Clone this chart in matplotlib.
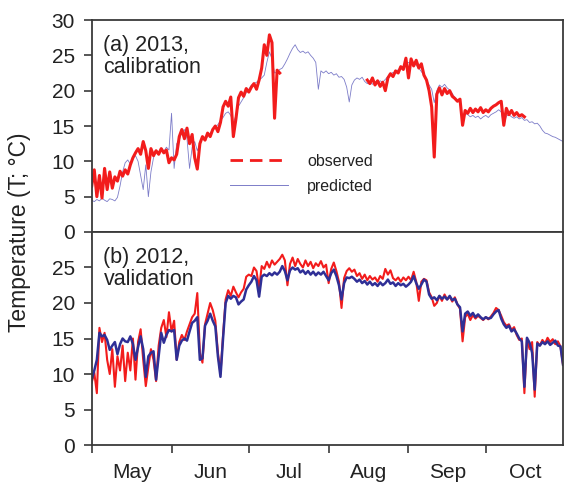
import matplotlib
matplotlib.use("Agg")
import matplotlib.pyplot as plt
from matplotlib.lines import Line2D
import numpy as np

plt.rcParams['font.family'] = ['Liberation Sans', 'DejaVu Sans']

# days counted from 1 May
month_starts = [0, 31, 61, 92, 123, 153, 184]
month_names = ['May', 'Jun', 'Jul', 'Aug', 'Sep', 'Oct']

# 2013 calibration run, daily values (deg C)
pred_2013 = [
    4.5, 4.3, 4.6, 4.4, 4.8, 4.5, 4.3, 4.7, 4.6, 4.4, 4.9, 6.5, 8.5, 9.8, 10.2, 9.6,
    10.5, 10.8, 10.0, 8.0, 6.0, 9.5, 5.0, 8.5, 10.5, 11.5, 11.2, 11.8, 11.4, 12.0, 11.6, 16.8,
    9.0, 12.5, 13.0, 14.2, 14.5, 13.2, 9.0, 12.0, 12.8, 11.5, 12.5, 13.2, 13.0, 13.5, 14.0, 14.5,
    14.8, 15.2, 15.8, 16.2, 16.8, 17.0, 16.5, 15.4, 16.5, 17.8, 18.4, 19.0, 19.7, 20.2, 20.8, 21.0,
    21.2, 21.5, 21.8, 22.2, 24.0, 25.5, 24.5, 22.5, 22.6, 23.0, 23.2, 23.8, 24.5, 25.3, 26.0, 26.5,
    25.8, 25.4, 25.6, 25.3, 25.5, 25.0, 24.6, 24.0, 20.2, 22.8, 22.5, 22.8, 22.4, 22.6, 22.2, 22.4,
    21.9, 22.0, 21.6, 20.5, 18.4, 20.8, 21.5, 21.8, 21.6, 21.9, 21.3, 21.0, 21.2, 20.9, 21.3, 21.0,
    21.4, 21.2, 21.6, 22.0, 22.3, 22.6, 22.4, 23.0, 23.2, 23.5, 23.8, 24.0, 23.7, 23.9, 23.6, 23.2,
    22.7, 22.2, 21.5, 20.8, 20.2, 18.3, 20.0, 20.8, 20.5, 20.9, 20.4, 20.1, 19.6, 19.0, 18.6, 18.3,
    15.1, 16.8, 16.6, 16.3, 16.5, 16.2, 16.4, 16.0, 16.3, 16.5, 16.2, 16.6, 16.8, 17.0, 17.3, 17.0,
    15.1, 16.4, 16.6, 16.3, 16.1, 16.3, 16.0, 16.2, 15.8, 15.9, 15.5, 15.6, 15.3, 15.4, 15.0, 14.4,
    14.0, 13.9, 13.7, 13.5, 13.4, 13.2, 13.0, 12.8,
]
obs_2013_early = [
    6.5, 8.8, 5.0, 8.0, 4.8, 9.0, 6.0, 8.5, 6.2, 7.8, 7.2, 8.6, 7.9, 8.8, 8.2, 9.5,
    10.5, 11.2, 11.8, 11.0, 12.8, 11.5, 9.0, 11.8, 10.8, 11.5, 11.0, 11.8, 11.2, 11.6, 9.8, 10.5,
    10.2, 11.0, 13.5, 14.5, 13.2, 14.7, 12.5, 13.8, 10.5, 8.9, 12.5, 13.5, 13.0, 14.0, 13.5, 14.5,
    15.0, 14.2, 15.5, 17.7, 18.5, 17.8, 19.1, 13.5, 16.0, 19.0, 19.8, 19.2, 20.3, 19.8, 20.5, 21.0,
    20.2, 21.5, 23.2, 26.5, 25.0, 27.9, 26.8, 16.1, 22.9, 22.5,
]
obs_2013_late_start = 107
obs_2013_late = [
    21.5, 21.0, 21.8, 20.8, 21.4, 20.6, 21.2, 20.0, 21.8, 22.4, 22.0, 22.8, 22.5, 23.4, 23.0, 24.6,
    21.8, 24.5, 23.5, 24.3, 23.2, 23.8, 22.2, 21.5, 20.0, 17.7, 10.6, 19.5, 20.4, 19.4, 20.3, 19.6,
    20.0, 19.2, 18.9, 18.5, 18.8, 15.1, 17.2, 16.8, 17.5, 16.9, 17.4, 17.0, 17.6, 16.9, 17.3, 17.0,
    17.5, 17.8, 18.0, 18.3, 18.5, 15.1, 17.5, 16.6, 17.2, 16.5, 16.9, 16.4, 16.6, 16.3,
]

# 2012 validation run, daily values (deg C)
pred_2012 = [
    9.2, 10.5, 12.0, 15.8, 15.3, 15.5, 14.8, 13.4, 14.0, 14.5, 12.8, 14.2, 15.0, 14.6, 14.5, 15.3,
    14.2, 12.0, 13.8, 15.3, 13.5, 9.6, 12.5, 13.0, 13.2, 9.2, 12.5, 15.8, 14.4, 15.5, 16.2, 16.0,
    16.2, 12.0, 14.0, 14.7, 15.0, 14.7, 16.0, 17.2, 17.5, 18.0, 12.0, 12.2, 16.8, 17.5, 18.5, 17.5,
    16.7, 12.5, 9.6, 15.0, 20.0, 21.0, 20.6, 21.0, 20.8, 19.8, 20.2, 20.5, 21.9, 22.5, 23.0, 23.8,
    23.2, 20.9, 23.7, 24.0, 23.8, 24.2, 23.9, 24.3, 24.0, 24.4, 25.2, 24.5, 23.2, 24.6, 25.0, 24.7,
    24.9, 24.3, 24.6, 24.1, 24.5, 24.0, 24.4, 23.9, 24.3, 24.0, 24.4, 23.8, 23.2, 24.2, 24.7, 23.8,
    22.5, 20.5, 22.8, 23.6, 23.5, 23.7, 23.4, 23.0, 23.3, 22.8, 23.1, 22.6, 23.0, 22.5, 22.8, 22.4,
    22.9, 22.5, 22.8, 23.3, 22.7, 22.9, 22.4, 22.8, 22.5, 22.7, 22.3, 22.6, 23.0, 23.8, 22.8, 22.0,
    22.6, 23.3, 23.0, 21.2, 20.6, 20.8, 20.4, 21.0, 20.6, 20.9, 20.5, 21.0, 20.4, 20.6, 19.8, 19.4,
    16.0, 18.5, 18.8, 18.2, 18.6, 18.0, 18.4, 18.0, 17.7, 18.0, 17.8, 17.9, 18.4, 18.8, 19.0, 17.8,
    17.0, 16.5, 16.8, 16.0, 16.3, 15.7, 15.0, 14.6, 8.2, 15.1, 14.4, 13.0, 7.8, 14.3, 14.0, 14.5,
    14.2, 14.6, 14.1, 14.4, 14.7, 14.0, 13.9, 11.3,
]
obs_2012 = [
    8.8, 10.2, 7.3, 16.5, 14.5, 15.8, 12.0, 10.0, 13.5, 8.2, 12.5, 10.5, 14.0, 9.0, 13.0, 10.5,
    15.0, 9.2, 14.5, 16.3, 12.0, 8.3, 11.0, 13.5, 12.0, 9.0, 14.0, 16.5, 17.6, 15.2, 18.7, 16.0,
    17.5, 12.0, 14.5, 15.5, 14.8, 16.0, 17.0, 18.0, 18.5, 21.4, 13.0, 11.6, 17.0, 18.5, 20.0, 19.0,
    17.5, 13.0, 10.0, 15.5, 20.5, 21.8, 21.0, 22.3, 21.5, 20.8, 21.5, 22.0, 23.7, 24.0, 23.8, 25.0,
    24.5, 22.0, 25.2, 24.8, 25.8, 25.0, 26.0, 25.4, 25.8, 26.2, 26.8, 26.0, 22.5, 25.5, 26.4, 25.2,
    26.2, 25.5, 25.0, 26.0, 25.2, 25.8, 24.9, 25.6, 25.2, 25.9, 25.0, 25.4, 22.8, 24.8, 25.7, 24.5,
    23.0, 19.3, 23.5, 24.5, 24.9, 24.4, 24.7, 23.8, 24.2, 23.4, 24.0, 23.2, 23.8, 23.3, 23.6, 23.0,
    23.8, 23.4, 24.8, 24.0, 24.6, 23.5, 23.2, 23.6, 23.0, 23.6, 23.2, 23.7, 23.2, 24.4, 23.0, 20.3,
    23.0, 23.4, 23.2, 21.5, 20.8, 19.6, 20.0, 21.0, 20.3, 21.2, 20.5, 20.9, 20.2, 20.8, 19.8, 19.2,
    14.6, 18.0, 18.5, 17.6, 18.3, 17.8, 18.2, 17.9, 17.6, 18.0, 17.7, 18.1, 18.6, 19.3, 19.0, 18.2,
    17.3, 16.8, 17.0, 16.2, 16.6, 15.5, 14.8, 15.0, 7.3, 15.0, 13.5, 14.5, 6.8, 14.5, 14.0, 14.8,
    14.3, 15.1, 14.5, 14.9, 14.2, 14.6, 13.9, 11.3,
]

red = '#f21c1c'
navy = '#2f2f96'
lavender = '#7c7cc8'
edge = '#3a3a3a'
txt = '#222222'

fig = plt.figure(figsize=(5.65, 4.88), dpi=100)
ax1 = fig.add_axes([0.1623, 0.5246, 0.8342, 0.4344])
ax2 = fig.add_axes([0.1623, 0.0881, 0.8342, 0.4365])

days_all = np.arange(len(pred_2013))
ax1.plot(days_all, pred_2013, color=lavender, lw=0.6)
ax1.plot(np.arange(len(obs_2013_early)), obs_2013_early, color=red, lw=2.2)
ax1.plot(obs_2013_late_start + np.arange(len(obs_2013_late)), obs_2013_late,
         color=red, lw=2.2)

ax2.plot(np.arange(len(obs_2012)), obs_2012, color=red, lw=1.5)
ax2.plot(np.arange(len(pred_2012)), pred_2012, color=navy, lw=1.8)

for ax in (ax1, ax2):
    ax.set_xlim(0, 183)
    ax.set_ylim(0, 30)
    ax.set_xticks(month_starts[:-1])
    ax.set_xticks([(a + b) / 2 for a, b in zip(month_starts[:-1], month_starts[1:])],
                  minor=True)
    ax.tick_params(axis='both', which='major', direction='out', length=6, width=1.2,
                   color=edge, labelsize=15, labelcolor=txt, pad=6)
    ax.tick_params(axis='x', which='major', labelbottom=False)
    ax.tick_params(axis='x', which='minor', length=0, labelsize=15, pad=13,
                   labelcolor=txt)
    for s in ax.spines.values():
        s.set_color(edge)
        s.set_linewidth(1.3)

ax1.set_yticks([0, 5, 10, 15, 20, 25, 30])
ax1.tick_params(axis='x', which='minor', labelbottom=False)
ax2.set_yticks([0, 5, 10, 15, 20, 25])
ax2.set_xticklabels(month_names, minor=True)

ax1.text(0.025, 0.93, '(a) 2013,\ncalibration', transform=ax1.transAxes,
         fontsize=15.5, va='top', ha='left', color=txt, linespacing=1.05)
ax2.text(0.025, 0.93, '(b) 2012,\nvalidation', transform=ax2.transAxes,
         fontsize=15.5, va='top', ha='left', color=txt, linespacing=1.05)

handles = [Line2D([], [], color=red, lw=2.0, linestyle=(0, (4.5, 2.5))),
           Line2D([], [], color=lavender, lw=0.7)]
ax1.legend(handles, ['observed', 'predicted'], loc='upper left',
           bbox_to_anchor=(0.294, 0.37), frameon=False, fontsize=11.5,
           handlelength=3.6, handletextpad=1.2, labelspacing=0.65, borderpad=0,
           borderaxespad=0, labelcolor=txt)

fig.text(0.035, 0.5246, 'Temperature (T; \u00b0C)', rotation=90, fontsize=16.5,
         va='center', ha='center', color=txt)

fig.savefig('out.png', dpi=100)
